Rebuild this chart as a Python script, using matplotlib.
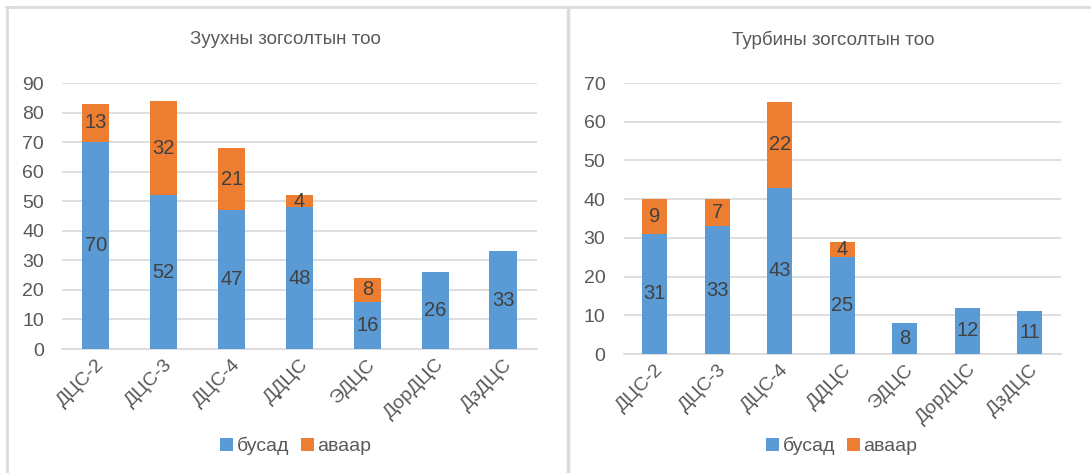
import matplotlib
matplotlib.use("Agg")
import matplotlib.pyplot as plt
from matplotlib.lines import Line2D

plt.rcParams['font.family'] = ['Liberation Sans', 'DejaVu Sans']

stations = ["ДЦС-2", "ДЦС-3", "ДЦС-4", "ДДЦС", "ЭДЦС", "ДорДЦС", "ДзДЦС"]

boiler_other = [70, 52, 47, 48, 16, 26, 33]
boiler_accident = [13, 32, 21, 4, 8, 0, 0]

turbine_other = [31, 33, 43, 25, 8, 12, 11]
turbine_accident = [9, 7, 22, 4, 0, 0, 0]

series_names = ["бусад", "аваар"]
titles = ["Зуухны зогсолтын тоо", "Турбины зогсолтын тоо"]

BLUE = "#5B9BD5"
ORANGE = "#ED7D31"
TEXT = "#595959"
LABEL = "#404040"
GRID = "#D9D9D9"

W, H = 1091, 473
fig = plt.figure(figsize=(W / 100, H / 100), dpi=100)


def px_box(x0, x1, y_bottom, y_top):
    return [x0 / W, 1 - y_bottom / H, (x1 - x0) / W, (y_bottom - y_top) / H]


def draw_panel(ax, other, accident, ymax, title, title_x, legend_x):
    x = list(range(len(stations)))
    width = 0.4
    b1 = ax.bar(x, other, width, color=BLUE, label=series_names[0], zorder=3)
    b2 = ax.bar(x, accident, width, bottom=other, color=ORANGE,
                label=series_names[1], zorder=3)
    for i, (o, a) in enumerate(zip(other, accident)):
        if o:
            ax.text(i, o / 2, str(o), ha="center", va="center",
                    fontsize=14.5, color=LABEL, zorder=4)
        if a:
            ax.text(i, o + a / 2, str(a), ha="center", va="center",
                    fontsize=14.5, color=LABEL, zorder=4)

    ax.set_xlim(-0.5, len(stations) - 0.5)
    ax.set_ylim(0, ymax)
    ax.set_yticks(range(0, ymax + 1, 10))
    ax.yaxis.grid(True, color=GRID, linewidth=1.2, zorder=0)
    ax.set_axisbelow(True)
    for s in ["top", "right", "left"]:
        ax.spines[s].set_visible(False)
    ax.spines["bottom"].set_color(GRID)
    ax.spines["bottom"].set_linewidth(1.2)
    ax.tick_params(axis="both", length=0, colors=TEXT, labelsize=14)
    ax.tick_params(axis="y", pad=13)
    ax.tick_params(axis="x", pad=5)
    ax.set_xticks(x)
    ax.set_xticklabels(stations, rotation=45, ha="right",
                       rotation_mode="anchor", color=TEXT)
    fig.text(title_x / W, 1 - 40 / H, title, ha="center", va="center",
             fontsize=13.5, color=TEXT)
    ax.legend(handles=[b1, b2], loc="center", ncol=2, frameon=False,
              bbox_to_anchor=(legend_x / W, 1 - 446 / H),
              bbox_transform=fig.transFigure,
              fontsize=14, labelcolor=TEXT, handlelength=0.65,
              handleheight=0.65, handletextpad=0.2, columnspacing=0.6,
              borderaxespad=0)


ax1 = fig.add_axes(px_box(62, 537, 349, 83))
draw_panel(ax1, boiler_other, boiler_accident, 90, titles[0], 285, 296)

ax2 = fig.add_axes(px_box(623.5, 1061, 354, 83))
draw_panel(ax2, turbine_other, turbine_accident, 70, titles[1], 833, 842)

# frame lines around the two chart panels
frame = dict(color="#DCDCDC", transform=fig.transFigure)
fig.add_artist(Line2D([6 / W, 1], [1 - 7.5 / H, 1 - 7.5 / H], linewidth=2, **frame))
fig.add_artist(Line2D([7 / W, 7 / W], [0, 1 - 7 / H], linewidth=2, **frame))
fig.add_artist(Line2D([567.5 / W, 567.5 / W], [0, 1 - 7 / H], linewidth=2.5, **frame))

fig.savefig("out.png", dpi=100)
